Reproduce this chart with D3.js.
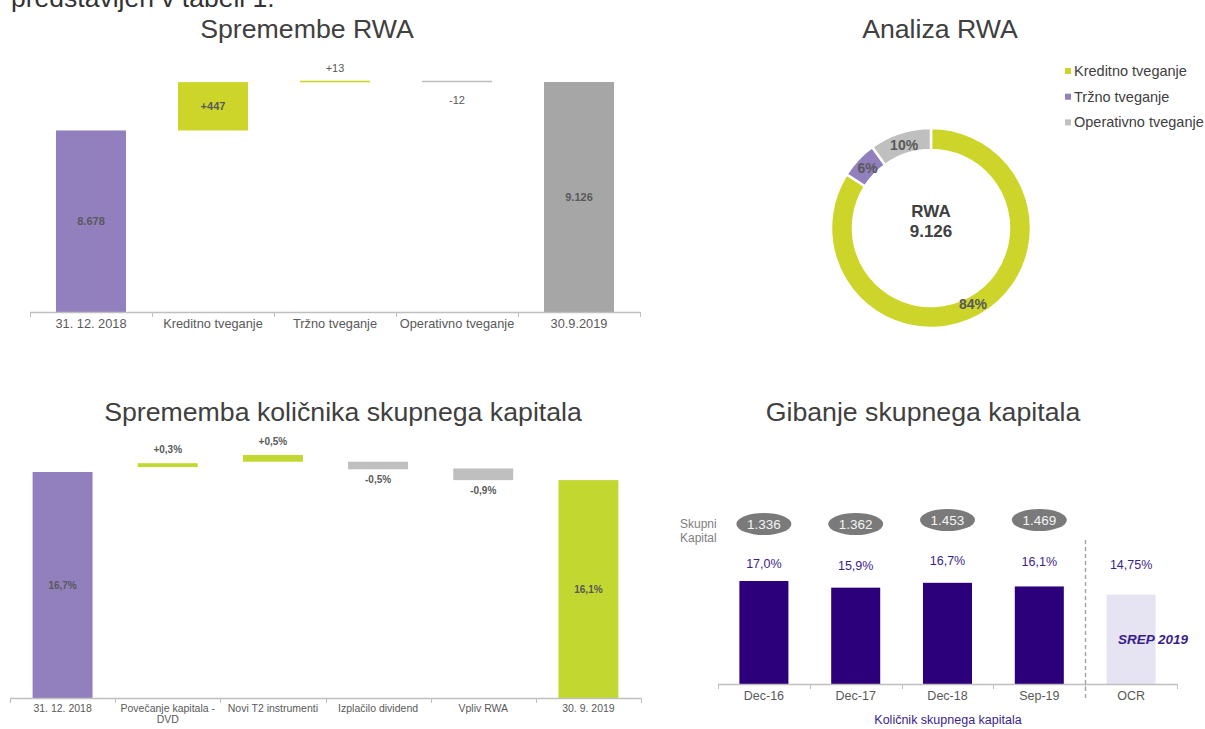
<!DOCTYPE html>
<html><head><meta charset="utf-8">
<script src="https://cdn.jsdelivr.net/npm/d3@7"></script>
<style>
body{margin:0;background:#fff;}
svg{display:block;font-family:"Liberation Sans",Arial,sans-serif;}
</style></head>
<body><svg id="c" width="1205" height="729"></svg>
<script>
// ---------- DATA ----------
// Chart 1: Spremembe RWA (waterfall)
const rwaCategories = ["31. 12. 2018", "Kreditno tveganje", "Tržno tveganje", "Operativno tveganje", "30.9.2019"];
const rwaStart = 8678;
const rwaDeltas = [447, 13, -12];
const rwaEnd = 9126;
const rwaLabels = ["8.678", "+447", "+13", "-12", "9.126"];

// Chart 2: Analiza RWA (donut)
const donutCategories = ["Kreditno tveganje", "Tržno tveganje", "Operativno tveganje"];
const donutShares = [84, 6, 10];
const donutTotalLabel = "9.126";

// Chart 3: Sprememba količnika skupnega kapitala
const capCategories = [["31. 12. 2018"], ["Povečanje kapitala -", "DVD"], ["Novi T2 instrumenti"], ["Izplačilo dividend"], ["Vpliv RWA"], ["30. 9. 2019"]];
const capLow  = [0, 17.07, 17.46, 16.90, 16.10, 0];
const capHigh = [16.7, 17.35, 17.96, 17.46, 16.96, 16.1];
const capLabels = ["16,7%", "+0,3%", "+0,5%", "-0,5%", "-0,9%", "16,1%"];

// Chart 4: Gibanje skupnega kapitala
const gibCategories = ["Dec-16", "Dec-17", "Dec-18", "Sep-19", "OCR"];
const gibRatios = [17.0, 15.9, 16.7, 16.1, 14.75];
const gibRatioLabels = ["17,0%", "15,9%", "16,7%", "16,1%", "14,75%"];
const gibCapital = ["1.336", "1.362", "1.453", "1.469"];

// ---------- STYLE ----------
const C = {
  title: "#404040", text: "#595959", axis: "#BFBFBF",
  purple: "#927FBD", green: "#CDD52A", green2: "#C2D730", gray: "#A6A6A6", lgray: "#BFBFBF",
  indigo: "#2B007A", lav: "#E6E3F3", ink: "#3A1E8C", oval: "#7A7A7A"
};

const svg = d3.select("#c");

// cut-off heading text at top
svg.append("text").attr("x", 11).attr("y", 7).attr("font-size", 26.5).attr("fill", "#333")
  .text("predstavljen v tabeli 1.");

function title(x, y, t) {
  svg.append("text").attr("x", x).attr("y", y).attr("text-anchor", "middle")
    .attr("font-size", 26.7).attr("fill", C.title).text(t);
}
title(307, 38, "Spremembe RWA");
title(940, 38, "Analiza RWA");
title(343, 421, "Sprememba količnika skupnega kapitala");
title(923, 421, "Gibanje skupnega kapitala");

function catAxis(g, x, y0, cats, fs, lineH) {
  const [r0, r1] = x.range();
  g.append("line").attr("x1", r0).attr("x2", r1).attr("y1", y0 + 0.5).attr("y2", y0 + 0.5)
    .attr("stroke", C.axis).attr("stroke-width", 1.5);
  d3.range(cats.length + 1).forEach(i => {
    const xx = Math.round(r0 + i * x.step()) + 0.5;
    g.append("line").attr("x1", xx).attr("x2", xx).attr("y1", y0).attr("y2", y0 + 5)
      .attr("stroke", C.axis).attr("stroke-width", 1);
  });
  const ax = d3.axisBottom(x).tickSize(0).tickPadding(0).tickFormat(() => "");
  const ag = g.append("g").attr("transform", `translate(0,${y0})`).call(ax);
  ag.select(".domain").remove();
  ag.selectAll(".tick").each(function (d, i) {
    const lines = Array.isArray(cats[i]) ? cats[i] : [cats[i]];
    const t = d3.select(this).select("text").attr("y", 0).attr("dy", null)
      .attr("font-size", fs).attr("fill", C.text).attr("font-family", "Liberation Sans, Arial, sans-serif");
    lines.forEach((ln, j) => t.append("tspan").attr("x", 0).attr("y", 16 + j * lineH).text(ln));
  });
}

// ---------- CHART 1 ----------
{
  const g = svg.append("g");
  const x = d3.scaleBand().domain(d3.range(rwaCategories.length)).range([30, 640]).paddingInner(0.426).paddingOuter(0.213);
  const y = d3.scaleLinear().domain([7000, rwaEnd]).range([312, 82]);
  const bars = [];
  bars.push({lo: 7000, hi: rwaStart, c: C.purple, lab: "mid", bold: true});
  let cum = rwaStart;
  rwaDeltas.forEach((d, i) => {
    const lo = Math.min(cum, cum + d), hi = Math.max(cum, cum + d);
    bars.push({lo, hi, c: d >= 0 ? C.green : C.lgray, lab: i === 0 ? "mid" : (d >= 0 ? "above" : "below"), bold: i === 0});
    cum += d;
  });
  bars.push({lo: 7000, hi: rwaEnd, c: C.gray, lab: "mid", bold: true});
  bars.forEach((b, i) => {
    const h = Math.max(1.6, y(b.lo) - y(b.hi));
    g.append("rect").attr("x", x(i)).attr("width", x.bandwidth()).attr("y", y(b.hi)).attr("height", h).attr("fill", b.c);
    let ly;
    if (b.lab === "mid") ly = (y(b.hi) + y(b.lo)) / 2 + 4;
    else if (b.lab === "above") ly = y(b.hi) - 9;
    else ly = y(b.lo) + 22;
    g.append("text").attr("x", x(i) + x.bandwidth() / 2).attr("y", ly).attr("text-anchor", "middle")
      .attr("font-size", 11).attr("font-weight", b.bold ? "bold" : "normal").attr("fill", C.text).text(rwaLabels[i]);
  });
  catAxis(g, x, 312, rwaCategories, 12.8, 12);
}

// ---------- CHART 2 ----------
{
  const g = svg.append("g").attr("transform", "translate(931,228)");
  const colors = [C.green, C.purple, C.lgray];
  const pie = d3.pie().sort(null).value(d => d)(donutShares);
  const arc = d3.arc().innerRadius(78).outerRadius(100);
  g.selectAll("path").data(pie).join("path").attr("d", arc).attr("fill", (d, i) => colors[i])
    .attr("stroke", "#fff").attr("stroke-width", 2.5);
  const larc = d3.arc().innerRadius(74).outerRadius(100);
  g.selectAll("text.pl").data(pie).join("text").attr("class", "pl")
    .attr("transform", d => `translate(${larc.centroid(d)})`).attr("dy", 5).attr("text-anchor", "middle")
    .attr("font-size", 14).attr("font-weight", "bold").attr("fill", C.text).text((d, i) => donutShares[i] + "%");
  g.append("text").attr("y", -11).attr("text-anchor", "middle").attr("font-size", 17).attr("font-weight", "bold").attr("fill", C.title).text("RWA");
  g.append("text").attr("y", 9).attr("text-anchor", "middle").attr("font-size", 17).attr("font-weight", "bold").attr("fill", C.title).text(donutTotalLabel);
  const lg = svg.append("g").attr("transform", "translate(1065,71)");
  donutCategories.forEach((c, i) => {
    lg.append("rect").attr("x", 0).attr("y", i * 25.7 - 3).attr("width", 6).attr("height", 6).attr("fill", colors[i]);
    lg.append("text").attr("x", 9).attr("y", i * 25.7 + 5).attr("font-size", 14.5).attr("fill", C.title).text(c);
  });
}

// ---------- CHART 3 ----------
{
  const g = svg.append("g");
  const x = d3.scaleBand().domain(d3.range(capCategories.length)).range([10, 641]).paddingInner(0.43).paddingOuter(0.215);
  const y = d3.scaleLinear().domain([0, capHigh[0]]).range([698, 472]);
  const cols = [C.purple, C.green2, C.green2, C.lgray, C.lgray, C.green2];
  capHigh.forEach((hi, i) => {
    const lo = capLow[i];
    g.append("rect").attr("x", x(i)).attr("width", x.bandwidth()).attr("y", y(hi)).attr("height", y(lo) - y(hi)).attr("fill", cols[i]);
    const isTotal = lo === 0;
    const neg = capLabels[i].startsWith("-");
    let ly = isTotal ? (y(hi) + y(lo)) / 2 + 4 : (neg ? y(lo) + 14 : y(hi) - 10);
    g.append("text").attr("x", x(i) + x.bandwidth() / 2).attr("y", ly).attr("text-anchor", "middle")
      .attr("font-size", 10).attr("font-weight", "bold").attr("fill", C.text).text(capLabels[i]);
  });
  catAxis(g, x, 698, capCategories, 10.5, 11);
  g.selectAll(".tick text tspan").attr("y", function () { return +d3.select(this).attr("y") - 2; });
}

// ---------- CHART 4 ----------
{
  const g = svg.append("g");
  const x = d3.scaleBand().domain(d3.range(gibCategories.length)).range([718, 1177]).paddingInner(0.466).paddingOuter(0.233);
  const y = d3.scaleLinear().domain([0, 17]).range([684, 581]);
  const labOff = [13, 18, 18, 20, 26];
  gibRatios.forEach((v, i) => {
    const last = i === gibRatios.length - 1;
    g.append("rect").attr("x", x(i)).attr("width", x.bandwidth()).attr("y", y(v)).attr("height", y(0) - y(v))
      .attr("fill", last ? C.lav : C.indigo);
    g.append("text").attr("x", x(i) + x.bandwidth() / 2).attr("y", y(v) - labOff[i]).attr("text-anchor", "middle")
      .attr("font-size", 12.5).attr("fill", C.ink).text(gibRatioLabels[i]);
  });
  const ovalY = [524, 524, 520, 520];
  gibCapital.forEach((c, i) => {
    const cx = x(i) + x.bandwidth() / 2;
    g.append("ellipse").attr("cx", cx).attr("cy", ovalY[i]).attr("rx", 27.5).attr("ry", 11).attr("fill", C.oval);
    g.append("text").attr("x", cx).attr("y", ovalY[i] + 5).attr("text-anchor", "middle").attr("font-size", 13.5).attr("fill", "#F4F4F4").text(c);
  });
  g.append("text").attr("x", 680).attr("y", 528).attr("font-size", 12).attr("fill", "#808080").text("Skupni");
  g.append("text").attr("x", 680).attr("y", 542).attr("font-size", 12).attr("fill", "#808080").text("Kapital");
  catAxis(g, x, 684, gibCategories, 12.5, 12);
  const dx = Math.round(718 + 4 * x.step()) + 0.5;
  g.append("line").attr("x1", dx).attr("x2", dx).attr("y1", 540).attr("y2", 698)
    .attr("stroke", "#A6A6A6").attr("stroke-width", 1.5).attr("stroke-dasharray", "4,3");
  const lx = x(4) + x.bandwidth() / 2;
  g.append("text").attr("x", lx + 22).attr("y", 644).attr("text-anchor", "middle").attr("font-size", 13.5)
    .attr("font-weight", "bold").attr("font-style", "italic").attr("fill", C.ink).text("SREP 2019");
  g.append("text").attr("x", 948).attr("y", 724).attr("text-anchor", "middle").attr("font-size", 12.5).attr("fill", C.ink)
    .text("Količnik skupnega kapitala");
}
</script></body></html>
